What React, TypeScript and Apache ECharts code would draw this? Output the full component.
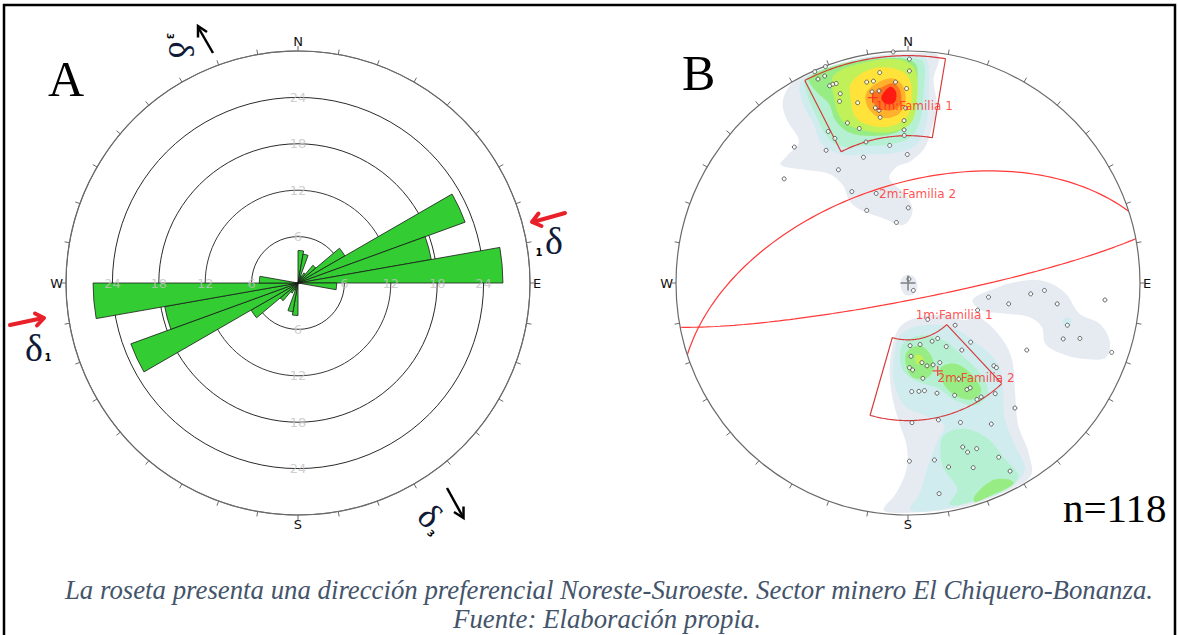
import React, { useEffect, useRef } from 'react';
import * as echarts from 'echarts';

// ---------- Panel A: rose diagram (bidirectional, 10° bins) ----------
const roseBinStarts = [0, 10, 20, 30, 40, 50, 60, 70, 80, 90, 100, 110, 120, 130, 140, 150, 160, 170,
  180, 190, 200, 210, 220, 230, 240, 250, 260, 270, 280, 290, 300, 310, 320, 330, 340, 350];
const roseCounts = [4.2, 3.8, 1, 1.5, 3, 7, 23, 17.5, 26.5, 5, 0, 0, 0, 0, 0, 0, 0, 0,
  4.2, 3.8, 1, 1.5, 3, 7, 23, 17.5, 26.5, 5, 0, 0, 0, 0, 0, 0, 0, 0];
const roseRings = [6, 12, 18, 24];
const ringLabelAngles = [0, 90, 180, 270];
const compassLabels: Record<number, string> = { 0: 'N', 90: 'E', 180: 'S', 270: 'W' };

// ---------- Panel B: stereonet (equal-area, unit radius) ----------
const poles = [
  [-0.064, 0.996], [0.006, 0.965], [-0.402, 0.911], [-0.356, 0.933], [-0.388, 0.879], [-0.359, 0.892],
  [0.006, 0.914], [-0.122, 0.907], [-0.338, 0.85], [-0.324, 0.857], [-0.309, 0.86], [-0.178, 0.866],
  [-0.149, 0.87], [-0.054, 0.866], [-0.292, 0.816], [-0.155, 0.824], [-0.125, 0.828], [-0.006, 0.838],
  [-0.295, 0.783], [-0.217, 0.777], [-0.141, 0.755], [-0.125, 0.744], [-0.12, 0.714], [-0.017, 0.7],
  [-0.01, 0.754], [-0.261, 0.69], [-0.21, 0.666], [-0.017, 0.66], [-0.344, 0.653], [-0.315, 0.623],
  [-0.016, 0.636], [-0.181, 0.608], [-0.079, 0.593], [-0.49, 0.586], [-0.353, 0.572], [-0.192, 0.542],
  [-0.003, 0.554], [-0.3, 0.488], [-0.534, 0.449], [-0.242, 0.394], [-0.137, 0.386], [0.001, 0.324],
  [-0.178, 0.313], [-0.05, 0.261],
  [0.004, 0.017], [0.023, -0.032],
  [0.347, -0.061], [0.434, -0.09], [0.529, -0.047], [0.588, -0.032], [0.643, -0.09], [0.849, -0.073],
  [0.687, -0.182], [0.669, -0.241], [0.741, -0.239], [0.878, -0.299], [0.512, -0.289], [0.3, -0.117],
  [0.085, -0.157], [0.203, -0.182], [0.009, -0.27], [0.052, -0.265], [0.104, -0.251], [0.128, -0.239],
  [0.165, -0.274], [0.232, -0.289], [0.27, -0.255], [0.013, -0.316], [0.06, -0.343], [0.082, -0.357],
  [0.108, -0.353], [0.137, -0.343], [0.006, -0.365], [0.02, -0.375], [0.064, -0.411], [0.219, -0.414],
  [0.254, -0.459], [0.268, -0.452], [0.201, -0.484], [0.125, -0.475], [0.016, -0.468], [0.047, -0.467],
  [0.071, -0.464], [0.37, -0.357], [0.381, -0.365], [0.376, -0.477], [0.297, -0.502], [0.315, -0.491],
  [0.461, -0.539], [0.017, -0.602], [0.131, -0.59], [0.226, -0.601], [0.359, -0.608], [0.236, -0.707],
  [0.257, -0.729], [0.296, -0.714], [0.006, -0.768], [0.114, -0.763], [0.175, -0.793], [0.281, -0.796],
  [0.391, -0.751], [0.44, -0.811], [0.134, -0.908],
];

const planes = [
  { name: '1m:Familia 1', dipDir: 169, dip: 84 },
  { name: '2m:Familia 2', dipDir: 342, dip: 55 },
];
const windows = [
  { azFrom: 333, azTo: 369.5, rIn: 0.635, rOut: 0.98 },
  { azFrom: 137, azTo: 196, rIn: 0.245, rOut: 0.593 },
];
const meanPoles = [[-0.152, 0.799], [0.128, -0.379]];
const netLabels = [
  { name: '1m:Familia 1', value: [-0.141, 0.765] },
  { name: '2m:Familia 2', value: [-0.127, 0.383] },
  { name: '1m:Familia 1', value: [0.031, -0.136] },
  { name: '2m:Familia 2', value: [0.125, -0.408] },
];

// density contour polygons (net coordinates), by level
const northL1 = [[-0.5, 0.86], [-0.4, 0.91], [-0.28, 0.95], [-0.14, 0.98], [0.01, 0.99], [0.13, 0.98], [0.11, 0.875], [0.125, 0.76], [0.1, 0.66], [0.07, 0.58], [0.01, 0.525], [-0.05, 0.5], [-0.08, 0.45], [-0.01, 0.38], [0.02, 0.31], [-0.02, 0.25], [-0.11, 0.28], [-0.195, 0.31], [-0.25, 0.35], [-0.28, 0.42], [-0.34, 0.47], [-0.46, 0.49], [-0.55, 0.51], [-0.52, 0.55], [-0.47, 0.61], [-0.52, 0.7], [-0.54, 0.78]];
const northL2 = [[-0.46, 0.87], [-0.33, 0.93], [-0.165, 0.975], [0.01, 0.98], [0.08, 0.965], [0.09, 0.846], [0.082, 0.7], [0.038, 0.598], [-0.05, 0.561], [-0.166, 0.554], [-0.283, 0.554], [-0.37, 0.598], [-0.407, 0.685], [-0.458, 0.787]];
const northL3 = [[-0.44, 0.88], [-0.31, 0.94], [-0.135, 0.97], [0.01, 0.97], [0.067, 0.95], [0.067, 0.816], [0.052, 0.7], [0.009, 0.627], [-0.079, 0.598], [-0.195, 0.59], [-0.297, 0.59], [-0.356, 0.641], [-0.4, 0.729], [-0.436, 0.816]];
const northL4 = [[-0.425, 0.885], [-0.28, 0.945], [-0.137, 0.965], [-0.006, 0.965], [0.038, 0.933], [0.031, 0.802], [0.009, 0.7], [-0.05, 0.649], [-0.152, 0.634], [-0.254, 0.649], [-0.312, 0.7], [-0.341, 0.773], [-0.4, 0.831]];
const northL5 = [[-0.319, 0.897], [-0.166, 0.955], [-0.035, 0.962], [0.031, 0.919], [0.038, 0.787], [0.009, 0.685], [-0.079, 0.65], [-0.195, 0.66], [-0.283, 0.7], [-0.319, 0.802]];
const northL6 = [[-0.246, 0.86], [-0.166, 0.919], [-0.064, 0.926], [0.001, 0.889], [0.016, 0.802], [-0.006, 0.714], [-0.079, 0.675], [-0.166, 0.68], [-0.225, 0.714], [-0.246, 0.787]];
const northL7 = [[-0.181, 0.816], [-0.137, 0.86], [-0.064, 0.882], [-0.02, 0.846], [-0.013, 0.773], [-0.05, 0.722], [-0.122, 0.714], [-0.173, 0.758]];
const northL8 = [[-0.152, 0.809], [-0.108, 0.846], [-0.061, 0.86], [-0.032, 0.824], [-0.035, 0.765], [-0.079, 0.744], [-0.137, 0.761]];
const northL9 = [[-0.115, 0.802], [-0.076, 0.846], [-0.052, 0.824], [-0.057, 0.78], [-0.096, 0.773]];
const southL1 = [[-0.035, -0.19], [0.052, -0.146], [0.155, -0.139], [0.242, -0.16], [0.3, -0.146], [0.388, -0.219], [0.446, -0.321], [0.461, -0.467], [0.475, -0.612], [0.519, -0.729], [0.53, -0.83], [0.44, -0.89], [0.29, -0.95], [0.15, -0.98], [0, -0.99], [-0.105, -0.98], [-0.05, -0.904], [-0.006, -0.802], [-0.006, -0.7], [-0.035, -0.612], [-0.064, -0.51], [-0.079, -0.394], [-0.071, -0.292]];
const southL2 = [[-0.028, -0.219], [0.067, -0.182], [0.184, -0.19], [0.3, -0.262], [0.388, -0.35], [0.41, -0.467], [0.417, -0.583], [0.461, -0.7], [0.504, -0.802], [0.44, -0.88], [0.29, -0.94], [0.15, -0.975], [0.01, -0.98], [0.052, -0.904], [0.082, -0.802], [0.125, -0.685], [0.155, -0.612], [0.067, -0.569], [-0.02, -0.525], [-0.064, -0.408], [-0.057, -0.292]];
const southL3a = [[-0.02, -0.262], [0.052, -0.226], [0.155, -0.248], [0.242, -0.321], [0.315, -0.394], [0.344, -0.467], [0.3, -0.525], [0.213, -0.51], [0.125, -0.452], [0.038, -0.423], [-0.02, -0.379], [-0.035, -0.321]];
const southL3b = [[0.155, -0.656], [0.242, -0.627], [0.344, -0.671], [0.417, -0.758], [0.475, -0.831], [0.425, -0.89], [0.29, -0.94], [0.18, -0.955], [0.213, -0.889], [0.155, -0.802], [0.14, -0.729]];
const southL4a = [[-0.006, -0.299], [0.052, -0.27], [0.096, -0.306], [0.111, -0.365], [0.082, -0.408], [0.023, -0.408], [-0.006, -0.365]];
const southL4b = [[0.14, -0.365], [0.213, -0.35], [0.286, -0.408], [0.315, -0.467], [0.271, -0.503], [0.198, -0.481], [0.147, -0.423]];
const southL4c = [[0.286, -0.919], [0.359, -0.853], [0.432, -0.846], [0.455, -0.865], [0.37, -0.91], [0.29, -0.945]];
const southL5 = [[0.031, -0.313], [0.058, -0.313], [0.067, -0.343], [0.038, -0.35]];
const eastL1 = [[0.278, -0.073], [0.359, -0.029], [0.475, 0.007], [0.592, 0.007], [0.679, -0.044], [0.738, -0.131], [0.825, -0.175], [0.869, -0.248], [0.854, -0.321], [0.767, -0.328], [0.665, -0.306], [0.592, -0.262], [0.577, -0.19], [0.519, -0.146], [0.417, -0.131], [0.315, -0.117]];
const eastL2 = [[0.672, -0.153], [0.701, -0.153], [0.701, -0.182], [0.672, -0.182]];
const centerL1 = [[-0.02, 0.029], [0.023, 0.029], [0.041, -0.015], [0.02, -0.051], [-0.017, -0.047], [-0.032, -0.007]];

const contourLayers = [
  { level: 0, pts: northL1 }, { level: 0, pts: southL1 }, { level: 0, pts: eastL1 }, { level: 0, pts: centerL1 },
  { level: 1, pts: northL2 }, { level: 1, pts: southL2 }, { level: 1, pts: eastL2 },
  { level: 2, pts: northL3 }, { level: 2, pts: southL3a }, { level: 2, pts: southL3b },
  { level: 3, pts: northL4 }, { level: 3, pts: southL4a }, { level: 3, pts: southL4b }, { level: 3, pts: southL4c },
  { level: 4, pts: northL5 }, { level: 4, pts: southL5 },
  { level: 5, pts: northL6 }, { level: 6, pts: northL7 }, { level: 7, pts: northL8 }, { level: 8, pts: northL9 },
];
const contourFills = ['#e6ebf2', '#d0ecef', '#b6f0d2', '#98ec84', '#c0f158', '#ffe33a', '#ffb02c', '#ff731e', '#ff1a12'];

const captionLine1 = 'La roseta presenta una dirección preferencial Noreste-Suroeste. Sector minero El Chiquero-Bonanza.';
const captionLine2 = 'Fuente: Elaboración propia.';
const sampleSize = 'n=118';

// ---------- geometry helpers (equal-area, lower hemisphere) ----------
const D2R = Math.PI / 180;
function project(trendDeg: number, plungeDeg: number) {
  const r = Math.SQRT2 * Math.sin(((90 - plungeDeg) * D2R) / 2);
  return [r * Math.sin(trendDeg * D2R), r * Math.cos(trendDeg * D2R)];
}
function greatCircle(dipDir: number, dip: number) {
  const s = (dipDir - 90) * D2R, d = dipDir * D2R, del = dip * D2R;
  const sv = [Math.sin(s), Math.cos(s), 0];
  const dv = [Math.sin(d) * Math.cos(del), Math.cos(d) * Math.cos(del), Math.sin(del)];
  const out: number[][] = [];
  for (let t = 0; t <= 180; t += 2) {
    const a = t * D2R;
    const v = [0, 1, 2].map((k) => sv[k] * Math.cos(a) + dv[k] * Math.sin(a));
    const plunge = Math.asin(Math.min(1, Math.max(-1, v[2]))) / D2R;
    const trend = Math.atan2(v[0], v[1]) / D2R;
    out.push(project(trend, plunge));
  }
  return out;
}
function windowOutline(w: { azFrom: number; azTo: number; rIn: number; rOut: number }) {
  const out: number[][] = [];
  for (let a = w.azFrom; a <= w.azTo + 1e-6; a += 0.5) out.push([w.rOut * Math.sin(a * D2R), w.rOut * Math.cos(a * D2R)]);
  for (let a = w.azTo; a >= w.azFrom - 1e-6; a -= 0.5) out.push([w.rIn * Math.sin(a * D2R), w.rIn * Math.cos(a * D2R)]);
  out.push(out[0]);
  return out;
}

const compassAxis = (polarIndex: number) => ({
  polarIndex, type: 'value', min: 0, max: 360, interval: 10, startAngle: 90, clockwise: true, z: 5,
  axisLine: { show: true, lineStyle: { color: '#6a6a6a', width: 1.2 } },
  axisTick: { show: true, inside: false, length: 5, lineStyle: { color: '#6a6a6a', width: 1 } },
  axisLabel: { show: true, margin: 3, color: '#111', fontSize: 13, fontFamily: 'DejaVu Sans', formatter: (v: number) => compassLabels[v] ?? '' },
  splitLine: { show: false }, splitArea: { show: false },
});
const hiddenRadius = (polarIndex: number, max: number) => ({
  polarIndex, type: 'value', min: 0, max, axisLine: { show: false }, axisTick: { show: false }, axisLabel: { show: false }, splitLine: { show: false },
});

const crossPath = 'path://M5 0 L5 10 M0 5 L10 5';
const deltaColor = '#0f1a38';
const arrowRed = '#e8202a';
const deltaFont = 'Liberation Serif';

function buildOption() {
  const ringLabelData: number[][] = [];
  roseRings.forEach((r) => ringLabelAngles.forEach((a) => ringLabelData.push([r, a])));

  const graphic: any[] = [
    { type: 'rect', shape: { x: 4, y: 5, width: 1171, height: 640 }, style: { fill: 'none', stroke: '#000', lineWidth: 2.5 }, z: 100 },
    { type: 'text', x: 48, y: 79, style: { text: 'A', fontSize: 50, fontFamily: 'Liberation Serif', fill: '#000', textVerticalAlign: 'middle', shadowBlur: 3, shadowColor: 'rgba(0,0,0,0.35)', shadowOffsetX: 2, shadowOffsetY: 2 }, z: 100 },
    { type: 'text', x: 682, y: 73, style: { text: 'B', fontSize: 50, fontFamily: 'Liberation Serif', fill: '#000', textVerticalAlign: 'middle', shadowBlur: 3, shadowColor: 'rgba(0,0,0,0.35)', shadowOffsetX: 2, shadowOffsetY: 2 }, z: 100 },
    { type: 'text', x: 1063, y: 508, style: { text: sampleSize, fontSize: 41, fontFamily: 'Liberation Serif', fill: '#000', textVerticalAlign: 'middle' }, z: 100 },
    { type: 'text', x: 609, y: 590, style: { text: captionLine1, fontSize: 26.8, fontStyle: 'italic', fontFamily: 'Liberation Serif', fill: '#44546a', textAlign: 'center', textVerticalAlign: 'middle' }, z: 100 },
    { type: 'text', x: 607, y: 619, style: { text: captionLine2, fontSize: 26.8, fontStyle: 'italic', fontFamily: 'Liberation Serif', fill: '#44546a', textAlign: 'center', textVerticalAlign: 'middle' }, z: 100 },
    // sigma 3 arrows (black)
    { type: 'line', shape: { x1: 213, y1: 53, x2: 198, y2: 27 }, style: { stroke: '#000', lineWidth: 2.5 }, z: 100 },
    { type: 'polyline', shape: { points: [[198, 37.5], [198, 26], [207, 32]] }, style: { stroke: '#000', lineWidth: 2.5, fill: 'none' }, z: 100 },
    { type: 'line', shape: { x1: 447, y1: 488, x2: 463, y2: 517 }, style: { stroke: '#000', lineWidth: 2.5 }, z: 100 },
    { type: 'polyline', shape: { points: [[463.5, 506.5], [463.5, 518], [454, 512]] }, style: { stroke: '#000', lineWidth: 2.5, fill: 'none' }, z: 100 },
    // sigma 1 arrows (red)
    { type: 'line', shape: { x1: 565, y1: 213, x2: 533, y2: 222 }, style: { stroke: arrowRed, lineWidth: 4, lineCap: 'round' }, z: 100 },
    { type: 'polyline', shape: { points: [[541.5, 226], [532, 222], [538.5, 213.5]] }, style: { stroke: arrowRed, lineWidth: 4, fill: 'none', lineCap: 'round', lineJoin: 'round' }, z: 100 },
    { type: 'line', shape: { x1: 10, y1: 325, x2: 43, y2: 318 }, style: { stroke: arrowRed, lineWidth: 4, lineCap: 'round' }, z: 100 },
    { type: 'polyline', shape: { points: [[35, 313.5], [44, 318], [37, 325.5]] }, style: { stroke: arrowRed, lineWidth: 4, fill: 'none', lineCap: 'round', lineJoin: 'round' }, z: 100 },
    // delta labels
    { type: 'text', x: 34, y: 348, style: { text: 'δ', fontSize: 38, fontFamily: deltaFont, fill: deltaColor, textAlign: 'center', textVerticalAlign: 'middle' }, z: 100 },
    { type: 'text', x: 48, y: 357, style: { text: '1', fontSize: 10, fontWeight: 'bold', fontFamily: 'DejaVu Sans', fill: '#000', textAlign: 'center', textVerticalAlign: 'middle' }, z: 100 },
    { type: 'text', x: 554, y: 241, style: { text: 'δ', fontSize: 38, fontFamily: deltaFont, fill: deltaColor, textAlign: 'center', textVerticalAlign: 'middle' }, z: 100 },
    { type: 'text', x: 539, y: 252, style: { text: '1', fontSize: 10, fontWeight: 'bold', fontFamily: 'DejaVu Sans', fill: '#000', textAlign: 'center', textVerticalAlign: 'middle' }, z: 100 },
    {
      type: 'group', x: 181, y: 50, rotation: -Math.PI / 2, z: 100,
      children: [
        { type: 'text', x: 0, y: 0, style: { text: 'δ', fontSize: 36, fontFamily: deltaFont, fill: deltaColor, textAlign: 'center', textVerticalAlign: 'middle' } },
        { type: 'text', x: -14, y: 11, style: { text: '3', fontSize: 9, fontWeight: 'bold', fontFamily: 'DejaVu Sans', fill: '#000', textAlign: 'center', textVerticalAlign: 'middle' } },
      ],
    },
    {
      type: 'group', x: 430, y: 516, rotation: -Math.PI / 4, z: 100,
      children: [
        { type: 'text', x: 0, y: 0, style: { text: 'δ', fontSize: 36, fontFamily: deltaFont, fill: deltaColor, textAlign: 'center', textVerticalAlign: 'middle' } },
        { type: 'text', x: 13, y: 12, style: { text: '3', fontSize: 9, fontWeight: 'bold', fontFamily: 'DejaVu Sans', fill: '#000', textAlign: 'center', textVerticalAlign: 'middle' } },
      ],
    },
  ];

  const series: any[] = [
    {
      type: 'bar', coordinateSystem: 'polar', polarIndex: 0, data: roseCounts, barCategoryGap: '0%', z: 3, silent: true,
      itemStyle: { color: '#33cc33', borderColor: '#1a1a1a', borderWidth: 0.8 },
    },
    {
      type: 'scatter', coordinateSystem: 'polar', polarIndex: 1, data: ringLabelData, symbolSize: 1, z: 6, silent: true,
      itemStyle: { color: 'rgba(0,0,0,0)' },
      label: { show: true, position: 'inside', formatter: (p: any) => String(p.value[0]), color: '#c2c2c2', fontSize: 13, fontFamily: 'DejaVu Sans' },
    },
    {
      type: 'custom', coordinateSystem: 'cartesian2d', xAxisIndex: 0, yAxisIndex: 0, z: 1, silent: true, clip: false,
      data: contourLayers.map((l) => l.pts[0]),
      renderItem: (params: any, api: any) => {
        const layer = contourLayers[params.dataIndex];
        return {
          type: 'polygon',
          shape: { points: layer.pts.map((p) => api.coord(p)), smooth: 0.35 },
          style: { fill: contourFills[layer.level], stroke: 'none' },
        };
      },
    },
    ...planes.map((pl) => ({
      type: 'line', xAxisIndex: 0, yAxisIndex: 0, data: greatCircle(pl.dipDir, pl.dip), showSymbol: false, z: 4, silent: true,
      lineStyle: { color: '#ff3838', width: 1.2 },
    })),
    ...windows.map((w) => ({
      type: 'line', xAxisIndex: 0, yAxisIndex: 0, data: windowOutline(w), showSymbol: false, z: 4, silent: true,
      lineStyle: { color: '#d63a3a', width: 1.2 },
    })),
    {
      type: 'scatter', xAxisIndex: 0, yAxisIndex: 0, data: poles, symbol: 'circle', symbolSize: 4, z: 5, silent: true,
      itemStyle: { color: '#ffffff', borderColor: '#444', borderWidth: 1 },
    },
    {
      type: 'scatter', xAxisIndex: 0, yAxisIndex: 0, data: meanPoles, symbol: crossPath, symbolSize: 10, z: 6, silent: true,
      itemStyle: { color: 'rgba(0,0,0,0)', borderColor: '#ff2020', borderWidth: 1.3 },
    },
    {
      type: 'scatter', xAxisIndex: 0, yAxisIndex: 0, data: [[0, 0]], symbol: crossPath, symbolSize: 15, z: 6, silent: true,
      itemStyle: { color: 'rgba(0,0,0,0)', borderColor: '#666', borderWidth: 1.5 },
    },
    {
      type: 'scatter', xAxisIndex: 0, yAxisIndex: 0, data: netLabels, symbolSize: 1, z: 7, silent: true,
      itemStyle: { color: 'rgba(0,0,0,0)' },
      label: { show: true, position: 'right', distance: 0, formatter: '{b}', color: '#ff2424', fontSize: 12, fontFamily: 'DejaVu Sans' },
    },
  ];

  return {
    animation: false,
    backgroundColor: '#ffffff',
    polar: [
      { center: [298, 283], radius: 232 },
      { center: [298, 283], radius: 232 },
      { center: [908, 283], radius: 232 },
    ],
    angleAxis: [
      {
        polarIndex: 0, type: 'category', data: roseBinStarts.map(String), startAngle: 90, clockwise: true, boundaryGap: true,
        axisLine: { show: false }, axisTick: { show: false }, axisLabel: { show: false }, splitLine: { show: false },
      },
      compassAxis(1),
      compassAxis(2),
    ],
    radiusAxis: [
      {
        polarIndex: 0, type: 'value', min: 0, max: 30, interval: 6,
        axisLine: { show: false }, axisTick: { show: false }, axisLabel: { show: false },
        splitLine: { show: true, lineStyle: { color: ['#333', '#333', '#3a3a3a', '#2a2a2a', '#2a2a2a', '#6a6a6a'], width: 1 } },
      },
      hiddenRadius(1, 30),
      hiddenRadius(2, 1),
    ],
    grid: [{ left: 676, top: 51, width: 464, height: 464 }],
    xAxis: [{ type: 'value', gridIndex: 0, min: -1, max: 1, show: false }],
    yAxis: [{ type: 'value', gridIndex: 0, min: -1, max: 1, show: false }],
    graphic,
    series,
  };
}

export default function App() {
  const ref = useRef<HTMLDivElement>(null);
  useEffect(() => {
    const chart = echarts.init(ref.current!, undefined, { renderer: 'svg' });
    chart.setOption(buildOption() as any);
    return () => chart.dispose();
  }, []);
  return <div ref={ref} style={{ position: 'absolute', left: 0, top: 0, width: 1179, height: 635, background: '#fff' }} />;
}
